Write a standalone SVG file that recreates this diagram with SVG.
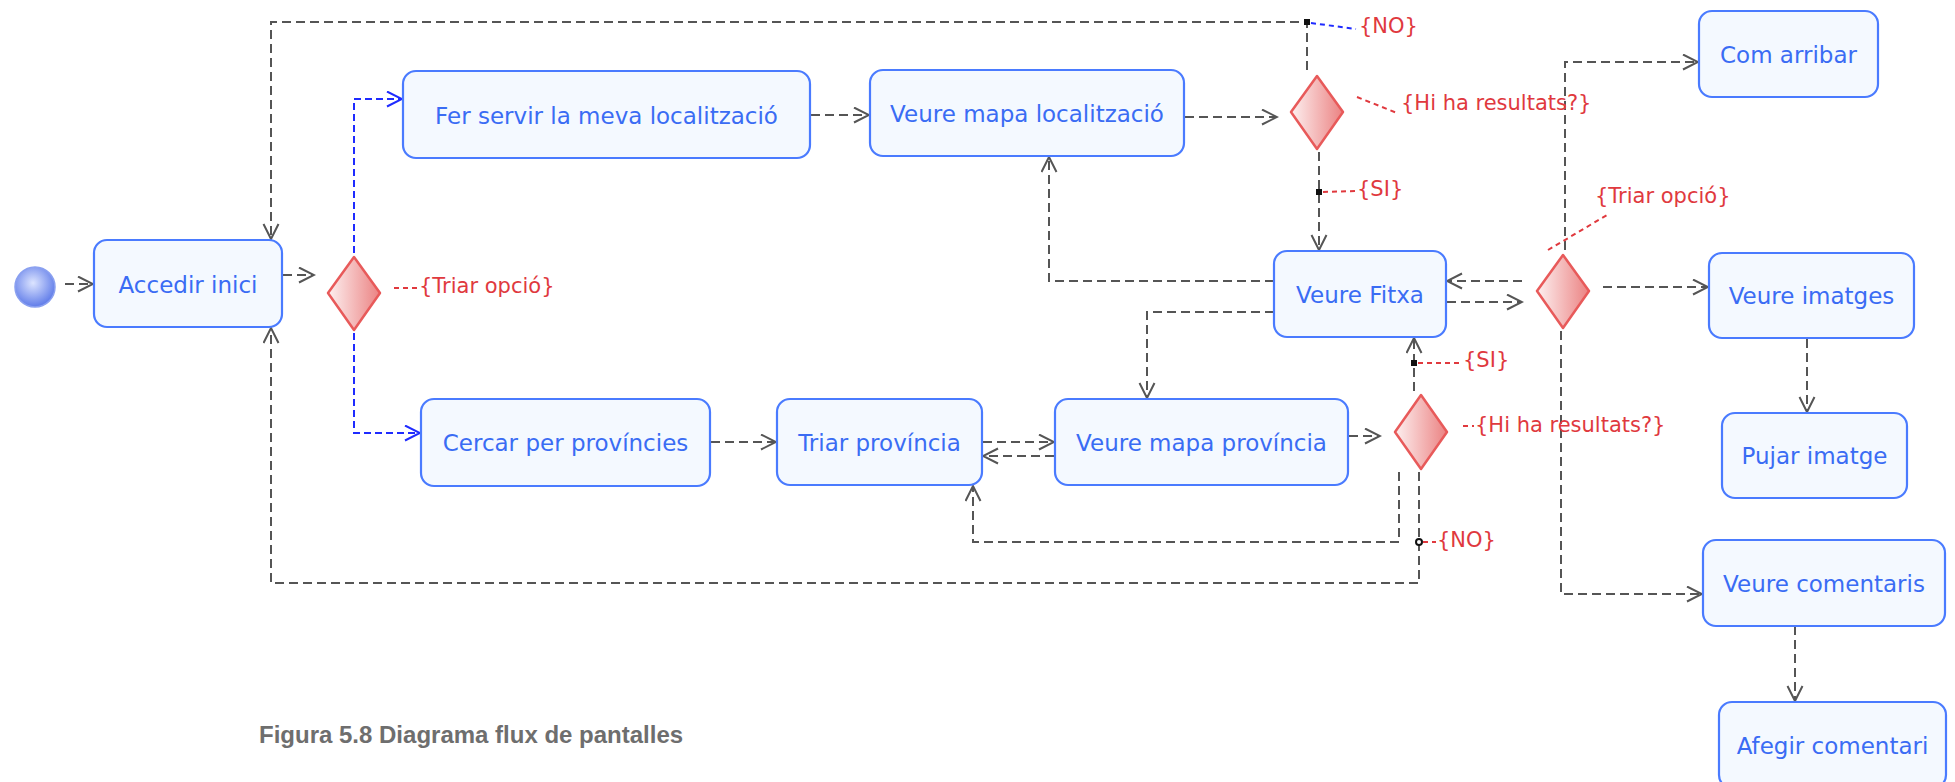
<svg xmlns="http://www.w3.org/2000/svg" width="1955" height="782" viewBox="0 0 1955 782">
  <style>
    .node rect { fill: #f4f9ff; stroke: #4a7bff; stroke-width: 2.2; }
    .node text { font-family: "DejaVu Sans", Verdana, sans-serif; font-size: 23px; fill: #3a6cf4; text-anchor: middle; }
    .dec polygon { fill: url(#decFill); stroke: #e85a5a; stroke-width: 2.5; stroke-linejoin: round; }
    .flow { fill: none; stroke: #555; stroke-width: 2; stroke-dasharray: 9 5; }
    .flow.blue { stroke: #1f2bff; stroke-dasharray: 7 4; }
    .lead { fill: none; stroke: #e0393e; stroke-width: 2; stroke-dasharray: 5 4; }
    .lead.blue { stroke: #1f2bff; }
    .lbl { font-family: "DejaVu Sans", Verdana, sans-serif; font-size: 21px; fill: #e0393e; }
    .dot { fill: #111; }
    .caption { font-family: "Liberation Sans", Arial, sans-serif; font-size: 24px; font-weight: bold; fill: #6e6e6e; }
  </style>
  <defs>
    <linearGradient id="decFill" x1="0" y1="0" x2="1" y2="0">
      <stop offset="0" stop-color="#fdf0f0"/>
      <stop offset="1" stop-color="#eb8282"/>
    </linearGradient>
    <radialGradient id="startFill" cx="0.45" cy="0.4" r="0.62">
      <stop offset="0" stop-color="#dce4ff"/>
      <stop offset="1" stop-color="#5b78e8"/>
    </radialGradient>
    <marker id="arr" markerWidth="18" markerHeight="18" refX="16" refY="8.5" orient="auto" markerUnits="userSpaceOnUse">
      <path d="M1,1 L16,8.5 L1,16" fill="none" stroke="#555" stroke-width="2"/>
    </marker>
    <marker id="arrBlue" markerWidth="18" markerHeight="18" refX="16" refY="8.5" orient="auto" markerUnits="userSpaceOnUse">
      <path d="M1,1 L16,8.5 L1,16" fill="none" stroke="#1f2bff" stroke-width="2"/>
    </marker>
  </defs>

  <rect width="1955" height="782" fill="#ffffff"/>

  <!-- connectors -->
  <g id="connectors">
    <path class="flow" d="M65,284 H93" marker-end="url(#arr)"/>
    <path class="flow" d="M283,275 H314" marker-end="url(#arr)"/>
    <path class="flow blue" d="M354,253 V99 H402" marker-end="url(#arrBlue)"/>
    <path class="flow blue" d="M354,333 V433 H420" marker-end="url(#arrBlue)"/>
    <path class="flow" d="M811,115 H869" marker-end="url(#arr)"/>
    <path class="flow" d="M1185,117 H1277" marker-end="url(#arr)"/>
    <!-- NO branch back to the start page (top) -->
    <path class="flow" d="M1307,70 V22 H271 V239" marker-end="url(#arr)"/>
    <!-- SI branch to the detail sheet -->
    <path class="flow" d="M1319,152 V250" marker-end="url(#arr)"/>
    <path class="flow" d="M1274,281 H1049 V157" marker-end="url(#arr)"/>
    <path class="flow" d="M1274,312 H1147 V398" marker-end="url(#arr)"/>
    <path class="flow" d="M1447,302 H1522" marker-end="url(#arr)"/>
    <path class="flow" d="M1522,281 H1447" marker-end="url(#arr)"/>
    <path class="flow" d="M1565,250 V62 H1698" marker-end="url(#arr)"/>
    <path class="flow" d="M1603,287 H1708" marker-end="url(#arr)"/>
    <path class="flow" d="M1561,331 V594 H1702" marker-end="url(#arr)"/>
    <path class="flow" d="M1807,339 V412" marker-end="url(#arr)"/>
    <path class="flow" d="M1795,626 V701" marker-end="url(#arr)"/>
    <path class="flow" d="M711,442 H776" marker-end="url(#arr)"/>
    <path class="flow" d="M983,442 H1054" marker-end="url(#arr)"/>
    <path class="flow" d="M1054,456 H983" marker-end="url(#arr)"/>
    <path class="flow" d="M1349,436 H1380" marker-end="url(#arr)"/>
    <path class="flow" d="M1414,391 V338" marker-end="url(#arr)"/>
    <path class="flow" d="M1399,472 V542 H973 V486" marker-end="url(#arr)"/>
    <!-- NO branch back to the start page (bottom) -->
    <path class="flow" d="M1419,472 V583 H271 V328" marker-end="url(#arr)"/>

    <!-- guard labels -->
    <rect class="dot" x="1304" y="19" width="6" height="6"/>
    <path class="lead blue" d="M1311,23 L1356,29"/>
    <text class="lbl" x="1359" y="33">{NO}</text>

    <path class="lead" d="M1357,97 L1397,113"/>
    <text class="lbl" x="1401" y="110">{Hi ha resultats?}</text>

    <rect class="dot" x="1316" y="189" width="6" height="6"/>
    <path class="lead" d="M1323,192 L1355,191"/>
    <text class="lbl" x="1357" y="196">{SI}</text>

    <path class="lead" d="M394,288 L417,288"/>
    <text class="lbl" x="419" y="293">{Triar opció}</text>

    <path class="lead" d="M1548,250 L1607,215"/>
    <text class="lbl" x="1595" y="203">{Triar opció}</text>

    <rect class="dot" x="1411" y="360" width="6" height="6"/>
    <path class="lead" d="M1418,363 L1460,363"/>
    <text class="lbl" x="1463" y="367">{SI}</text>

    <path class="lead" d="M1463,426 L1474,426"/>
    <text class="lbl" x="1475" y="432">{Hi ha resultats?}</text>

    <circle cx="1419" cy="542" r="3" fill="#fff" stroke="#111" stroke-width="2"/>
    <path class="lead" d="M1423,542 L1436,542"/>
    <text class="lbl" x="1437" y="547">{NO}</text>
  </g>

  <!-- start -->
  <g id="start">
    <circle cx="35" cy="287" r="20" fill="url(#startFill)" stroke="#8aa0f0" stroke-width="1.5"/>
  </g>

  <!-- activities -->
  <g id="accedir-inici" class="node">
    <rect x="94" y="240" width="188" height="87" rx="13"/>
    <text x="188" y="293">Accedir inici</text>
  </g>
  <g id="fer-servir-localitzacio" class="node">
    <rect x="403" y="71" width="407" height="87" rx="13"/>
    <text x="606.5" y="124">Fer servir la meva localització</text>
  </g>
  <g id="veure-mapa-localitzacio" class="node">
    <rect x="870" y="70" width="314" height="86" rx="13"/>
    <text x="1027" y="122">Veure mapa localització</text>
  </g>
  <g id="veure-fitxa" class="node">
    <rect x="1274" y="251" width="172" height="86" rx="13"/>
    <text x="1360" y="303">Veure Fitxa</text>
  </g>
  <g id="com-arribar" class="node">
    <rect x="1699" y="11" width="179" height="86" rx="13"/>
    <text x="1788.5" y="63">Com arribar</text>
  </g>
  <g id="veure-imatges" class="node">
    <rect x="1709" y="253" width="205" height="85" rx="13"/>
    <text x="1811.5" y="304">Veure imatges</text>
  </g>
  <g id="pujar-imatge" class="node">
    <rect x="1722" y="413" width="185" height="85" rx="13"/>
    <text x="1814.5" y="464">Pujar imatge</text>
  </g>
  <g id="veure-comentaris" class="node">
    <rect x="1703" y="540" width="242" height="86" rx="13"/>
    <text x="1824" y="592">Veure comentaris</text>
  </g>
  <g id="afegir-comentari" class="node">
    <rect x="1719" y="702" width="227" height="86" rx="13"/>
    <text x="1832.5" y="754">Afegir comentari</text>
  </g>
  <g id="cercar-provincies" class="node">
    <rect x="421" y="399" width="289" height="87" rx="13"/>
    <text x="565.5" y="451">Cercar per províncies</text>
  </g>
  <g id="triar-provincia" class="node">
    <rect x="777" y="399" width="205" height="86" rx="13"/>
    <text x="879.5" y="451">Triar província</text>
  </g>
  <g id="veure-mapa-provincia" class="node">
    <rect x="1055" y="399" width="293" height="86" rx="13"/>
    <text x="1201.5" y="451">Veure mapa província</text>
  </g>

  <!-- decisions -->
  <g id="decisio-opcio" class="dec">
    <polygon points="354,257 380,293 354,330 328,293"/>
  </g>
  <g id="decisio-resultats-localitzacio" class="dec">
    <polygon points="1317,76 1343,112 1317,149 1291,112"/>
  </g>
  <g id="decisio-opcio-fitxa" class="dec">
    <polygon points="1563,255 1589,291 1563,328 1537,291"/>
  </g>
  <g id="decisio-resultats-provincia" class="dec">
    <polygon points="1421,395 1447,432 1421,469 1395,432"/>
  </g>

  <text class="caption" x="259" y="743">Figura 5.8 Diagrama flux de pantalles</text>
</svg>
